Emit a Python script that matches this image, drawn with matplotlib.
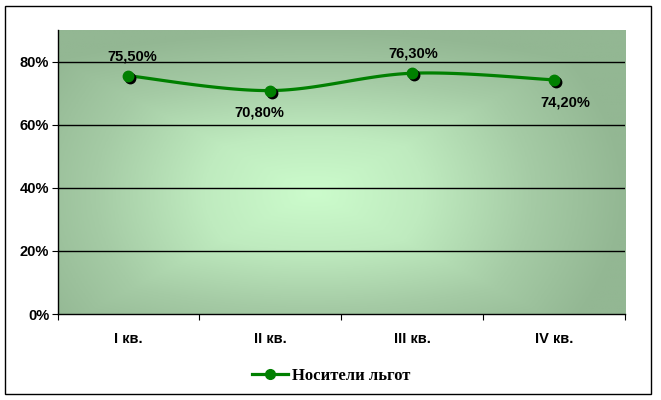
import numpy as np
import matplotlib
matplotlib.use("Agg")
import matplotlib.pyplot as plt
import matplotlib.transforms as mtransforms
from matplotlib.colors import LinearSegmentedColormap
from matplotlib.patches import Rectangle
from matplotlib.lines import Line2D

categories = ["I кв.", "II кв.", "III кв.", "IV кв."]
values = [0.755, 0.708, 0.763, 0.742]
labels = ["75,50%", "70,80%", "76,30%", "74,20%"]
label_pos = ["above", "below", "above", "below"]
series_name = "Носители льгот"
yticks = [0, 0.2, 0.4, 0.6, 0.8]
ytick_labels = ["0%", "20%", "40%", "60%", "80%"]

W, H = 661, 400
fig = plt.figure(figsize=(W / 100, H / 100), dpi=100)
fig.patch.set_facecolor("white")

# outer border
fig.add_artist(Rectangle((5 / W, 1 - 394 / H), 646 / W, 388 / H, transform=fig.transFigure,
                         fill=False, edgecolor="black", linewidth=1.0))

ax = fig.add_axes([57.5 / W, 1 - 314 / H, (625 - 57.5) / W, (314 - 30) / H])
n = len(categories)
ax.set_xlim(0, n)
ax.set_ylim(0, 0.9)

# radial gradient background
gx = np.linspace(-1, 1, 400)
gy = np.linspace(-1, 1, 300)
GX, GY = np.meshgrid(gx, gy)
cx, cy = -0.1, -0.15
dx = np.abs(GX - cx) / (1 + np.abs(cx))
dy = np.abs(GY - cy) / (1 + np.abs(cy))
r_e = np.sqrt(dx ** 2 + dy ** 2)
r_m = np.maximum(dx, dy)
r = np.clip(0.5 * r_e + 0.5 * r_m, 0, 1)
cmap = LinearSegmentedColormap.from_list("g", [(0, "#ccfccc"), (0.35, "#bfebbf"), (0.7, "#a5cba5"), (1.0, "#93b793")])
ax.imshow(r, cmap=cmap, extent=[0, n, 0, 0.9], aspect="auto", origin="lower", zorder=0, vmin=0, vmax=1)

for t in yticks[1:]:
    ax.axhline(t, color="black", linewidth=1.0, zorder=1)

# smoothed line (Catmull-Rom style Bezier through data points)
xs = np.arange(n) + 0.5
ys = np.array(values)
px = np.concatenate([[xs[0]], xs, [xs[-1]]])
py = np.concatenate([[ys[0]], ys, [ys[-1]]])
cxs, cys = [], []
for i in range(1, n):
    t = np.linspace(0, 1, 40)
    for arr, out in [(px, cxs), (py, cys)]:
        a0, a1, a2, a3 = arr[i - 1], arr[i], arr[i + 1], arr[i + 2]
        b1 = a1 + (a2 - a0) / 6
        b2 = a2 - (a3 - a1) / 6
        out.extend((1 - t) ** 3 * a1 + 3 * (1 - t) ** 2 * t * b1 + 3 * (1 - t) * t ** 2 * b2 + t ** 3 * a2)
ax.plot(cxs, cys, color="#008000", linewidth=2.3, zorder=3, solid_capstyle="round")

shadow = ax.transData + mtransforms.ScaledTranslation(2 / 100, -2 / 100, fig.dpi_scale_trans)
ax.plot(xs, ys, "o", color="black", markersize=7.5, transform=shadow, zorder=3.5)
ax.plot(xs, ys, "o", color="#008000", markersize=7.5, zorder=4)

label_dx = [3, -8, 1, 8]
for x, y, lab, pos, ddx in zip(xs, ys, labels, label_pos, label_dx):
    off = 9 if pos == "above" else -11
    ax.annotate(lab, (x, y), xytext=(ddx, off), textcoords="offset points", ha="center",
                va="bottom" if pos == "above" else "top", fontsize=10.5, fontweight="bold",
                family="Liberation Sans", color="black", zorder=5)

ax.set_yticks(yticks)
ax.set_yticklabels(ytick_labels, fontsize=10.5, fontweight="bold", family="Liberation Sans")
ax.set_xticks(range(n + 1))
ax.set_xticklabels([])
ax.set_xticks(xs, minor=True)
ax.set_xticklabels(categories, minor=True, fontsize=10.5, fontweight="bold", family="Liberation Sans")
ax.tick_params(axis="x", which="major", length=4, direction="out", color="black")
ax.tick_params(axis="x", which="minor", length=0, pad=13)
ax.tick_params(axis="y", length=4, direction="out", pad=2)
for s in ["top", "right"]:
    ax.spines[s].set_visible(False)
ax.spines["left"].set_linewidth(1.0)
ax.spines["bottom"].set_linewidth(1.0)

handle = Line2D([0], [0], color="#008000", linewidth=2.3, marker="o", markersize=7)
fig.legend([handle], [series_name], loc="center", bbox_to_anchor=(331 / W, 1 - 376 / H),
           frameon=False, prop={"family": "Liberation Serif", "weight": "bold", "size": 12},
           handlelength=2.2, handletextpad=0.2)

fig.savefig("out.png", dpi=100)
